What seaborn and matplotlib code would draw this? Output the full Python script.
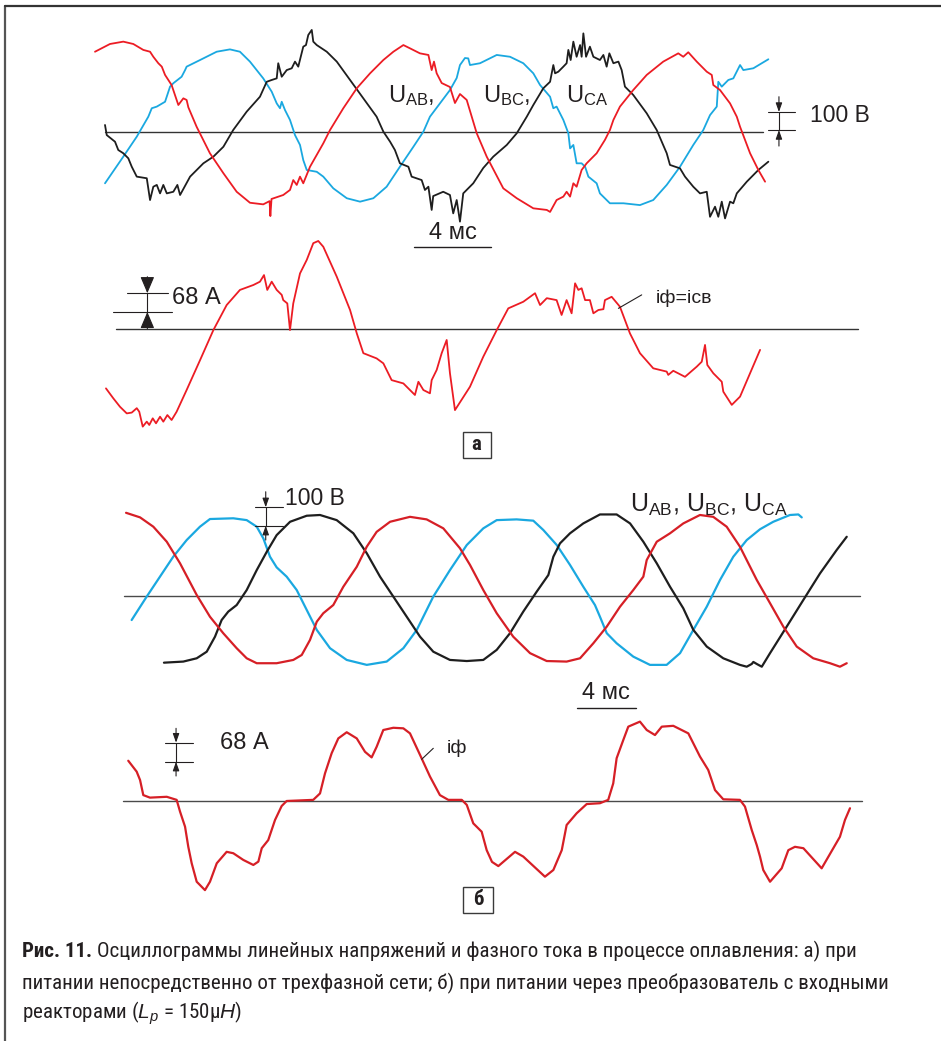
import matplotlib
matplotlib.use("Agg")
import matplotlib.pyplot as plt
from matplotlib import font_manager
from matplotlib.patches import Rectangle
from matplotlib.lines import Line2D
import pandas as pd
import seaborn as sns

# ---------------------------------------------------------------------------
# Oscillogram a): supply straight from the three-phase mains
# time in ms, line voltages in V, phase current in A
# ---------------------------------------------------------------------------
A_T_AB = [-0.52, 0.26, 0.95, 1.47, 1.99, 2.34, 2.51, 2.77, 2.95, 3.12, 3.46, 3.81, 4.07, 4.24, 4.33,
          4.76, 5.45, 6.15, 6.84, 7.53, 8.22, 8.55, 8.59, 8.65, 9.26, 9.61, 9.78, 9.96, 10.13, 10.30,
          10.65, 11.34, 11.69, 12.38, 13.08, 13.77, 14.46, 14.98, 15.50, 15.84, 16.36, 16.80, 16.97,
          17.09, 17.23, 17.49, 17.92, 18.18, 18.44, 18.79, 19.31, 19.83, 20.69, 21.39, 22.25, 22.95,
          23.12, 23.46, 23.81, 23.98, 24.16, 24.33, 24.50, 24.76, 25.02, 25.54, 25.97, 26.23, 26.41,
          26.75, 27.44, 28.14, 29.00, 29.78, 30.04, 30.30, 30.74, 31.26, 31.52, 31.60, 31.95, 32.47,
          32.82, 32.99, 33.51, 33.94, 34.29]
A_U_AB = [446, 489, 502, 489, 456, 446, 418, 382, 363, 317, 261, 150, 187, 178, 137,
          29, -118, -229, -332, -393, -402, -384, -467, -372, -350, -322, -267, -294, -248, -285,
          -193, -63, 11, 132, 243, 326, 400, 446, 483, 465, 437, 428, 344,
          391, 326, 272, 250, 161, 211, 178, -7, -137, -313, -368, -424, -433,
          -444, -378, -359, -332, -359, -285, -304, -211, -174, -118, -44, 11, 67,
          141, 233, 317, 391, 437, 418, 443, 391, 335, 317, 261, 233, 159,
          85, 29, -118, -211, -276]

A_T_BC = [0, 0.95, 1.65, 2.25, 2.43, 2.69, 3.12, 3.38, 3.55, 3.98, 4.16, 4.24, 4.94, 5.80, 6.49,
          7.01, 7.53, 8.22, 8.66, 8.92, 9.09, 9.18, 9.35, 9.61, 9.87, 10.13, 10.30, 10.48, 11.00,
          11.34, 11.86, 12.56, 13.25, 13.94, 14.63, 15.32, 16.02, 16.54, 16.88, 17.40, 17.92, 18.27,
          18.44, 18.70, 18.87, 18.96, 19.48, 20.35, 21.04, 21.73, 22.25, 22.60, 23.12, 23.29, 23.46,
          23.81, 24.07, 24.16, 24.33, 24.50, 24.76, 24.94, 25.11, 25.54, 25.71, 26.23, 26.93, 27.79,
          28.48, 29.18, 29.87, 30.56, 31.08, 31.43, 31.78, 31.86, 32.04, 32.38, 32.64, 32.99, 33.16,
          33.68, 34.46]
A_U_BC = [-285, -137, -26, 85, 132, 141, 168, 252, 271, 307, 344, 363, 400, 446, 459,
          446, 391, 298, 224, 159, 132, 168, 122, 67, -17, -72, -156, -211, -221,
          -248, -313, -368, -387, -368, -304, -193, -82, 2, 85, 159, 233, 300,
          372, 411, 409, 372, 382, 428, 418, 382, 326, 261, 196, 132, 141,
          67, -7, -91, -72, -174, -174, -193, -248, -285, -341, -396, -396, -406,
          -378, -294, -193, -72, 11, 94, 141, 279, 252, 289, 298, 372, 344,
          354, 404]

A_T_CA = [0, 0.09, 0.52, 0.69, 0.95, 1.21, 1.39, 1.65, 2.17, 2.34,
          2.51, 2.69, 2.86, 3.03, 3.21, 3.55, 3.76, 3.90, 4.42, 5.11,
          5.63, 6.15, 6.66, 7.36, 8.05, 8.40, 8.66, 8.92, 9.00, 9.18,
          9.44, 9.70, 9.87, 10.04, 10.30, 10.44, 10.56, 10.74, 10.82, 11.00,
          11.52, 12.04, 12.73, 13.42, 14.11, 14.46, 14.81, 15.06, 15.32, 15.76,
          15.93, 16.45, 16.62, 16.80, 16.97, 17.05, 17.57, 17.92, 18.09, 18.27,
          18.44, 18.61, 19.13, 19.65, 20.17, 20.87, 21.39, 21.91, 22.25, 22.77,
          23.12, 23.29, 23.38, 23.55, 23.81, 23.98, 24.07, 24.19, 24.33, 24.50,
          24.68, 24.76, 24.85, 24.99, 25.19, 25.37, 25.71, 25.89, 26.06, 26.20,
          26.41, 26.67, 26.84, 27.01, 27.44, 28.14, 28.66, 29.18, 29.35, 29.87,
          30.13, 30.56, 30.91, 31.26, 31.43, 31.69, 31.86, 32.04, 32.21, 32.47,
          32.64, 32.82, 33.34, 33.94, 34.46]
A_U_CA = [39, -17, -54, -100, -118, -146, -193, -248, -257, -378,
          -304, -294, -341, -294, -341, -332, -294, -350, -248, -174,
          -137, -82, 11, 113, 196, 279, 289, 298, 382, 307,
          344, 354, 391, 363, 474, 483, 539, 567, 502, 483,
          446, 391, 289, 187, 85, 2, -54, -100, -174, -193,
          -248, -267, -322, -304, -433, -356, -332, -350, -452, -378,
          -498, -341, -285, -200, -137, -72, -7, 85, 150, 243,
          279, 372, 326, 335, 363, 382, 456, 400, 502, 418,
          483, 418, 548, 418, 474, 418, 400, 428, 363, 437,
          382, 391, 344, 252, 206, 104, 11, -118, -183, -202,
          -248, -304, -341, -332, -471, -415, -471, -387, -480, -387,
          -396, -341, -276, -211, -165]

A_T_I = [0.05, 0.43, 0.78, 1.13, 1.39, 1.65, 1.78, 1.96, 2.17, 2.30,
         2.48, 2.65, 2.86, 3.03, 3.24, 3.46, 3.72, 4.24, 4.94, 5.63,
         6.32, 7.01, 7.71, 8.05, 8.26, 8.43, 8.66, 8.92, 9.18, 9.26,
         9.47, 9.61, 9.78, 10.13, 10.48, 10.82, 11.08, 11.34, 12.04, 12.73,
         13.08, 13.42, 14.11, 14.46, 14.89, 15.50, 16.10, 16.28, 16.54, 16.88,
         16.97, 17.23, 17.49, 17.75, 17.92, 18.18, 18.96, 19.65, 20.35, 20.95,
         21.73, 22.34, 22.60, 22.95, 23.46, 23.72, 23.98, 24.24, 24.42, 24.59,
         24.76, 24.94, 25.19, 25.37, 25.63, 25.89, 25.97, 26.32, 26.75, 27.27,
         27.79, 28.48, 29.18, 29.26, 29.52, 30.13, 30.74, 31.00, 31.17, 31.29,
         31.60, 32.04, 32.12, 32.56, 32.99, 34.03]
A_I = [-217, -253, -284, -308, -305, -289, -302, -356, -338, -350,
       -326, -344, -320, -338, -314, -332, -302, -223, -114, -5,
       86, 141, 159, 171, 195, 141, 171, 141, 123, 104,
       92, -5, 92, 201, 250, 311, 319, 298, 189, 68,
       -17, -89, -108, -126, -187, -199, -241, -193, -223, -235,
       -187, -150, -89, -41, -162, -296, -211, -102, -5, 74,
       98, 129, 86, 111, 104, 50, 104, 56, 165, 141,
       147, 104, 104, 56, 68, 71, 104, 116, 80, -17,
       -89, -144, -156, -168, -153, -175, -138, -120, -59, -132,
       -162, -193, -229, -277, -247, -77]

# ---------------------------------------------------------------------------
# Oscillogram б): supply through the converter with input reactors
# ---------------------------------------------------------------------------
B_T_AB = [0.41, 1.36, 2.26, 3.17, 4.07, 5.20, 6.10, 7.00, 7.91, 8.59,
          9.27, 10.62, 11.75, 12.32, 12.88, 13.34, 13.78, 14.46, 15.14, 16.05,
          16.73, 17.40, 18.31, 19.66, 20.79, 21.92, 23.05, 23.73, 24.63, 25.54,
          26.66, 27.80, 28.93, 30.28, 31.19, 32.09, 33.00, 33.90, 34.80, 35.48,
          35.71, 36.39, 37.29, 38.19, 39.32, 40.22, 41.13, 42.03, 43.17, 44.07,
          44.97, 45.88, 47.00, 48.14, 48.81, 49.27]
B_U_AB = [453, 428, 377, 295, 177, 4, -115, -205, -287, -342,
          -369, -369, -351, -324, -242, -142, -96, -51, 49, 158,
          268, 349, 404, 431, 417, 368, 259, 168, 31, -96,
          -224, -314, -357, -360, -342, -260, -169, -60, 31, 104,
          195, 295, 341, 395, 441, 431, 377, 268, 86, -41,
          -169, -278, -342, -369, -388, -369]

B_T_BC = [0.79, 1.81, 2.71, 3.61, 4.52, 5.42, 6.10, 7.68, 8.59, 9.27,
          9.72, 10.17, 10.62, 11.30, 11.98, 12.66, 13.34, 14.24, 15.37, 16.73,
          18.08, 19.21, 20.12, 21.24, 22.37, 23.51, 24.63, 25.54, 26.89, 28.02,
          28.70, 29.61, 30.51, 31.41, 32.20, 32.54, 33.00, 33.67, 34.80, 35.93,
          37.06, 37.97, 38.87, 39.78, 40.68, 41.58, 42.49, 43.39, 44.29, 45.42,
          45.99, 46.22]
B_U_BC = [-133, -5, 104, 213, 304, 377, 419, 423, 413, 377,
          313, 213, 155, 104, 31, -78, -187, -287, -351, -378,
          -360, -287, -187, -5, 140, 277, 368, 413, 417, 410,
          359, 277, 168, 49, -51, -115, -205, -260, -333, -378,
          -378, -314, -187, -60, 86, 213, 304, 363, 404, 441,
          444, 428]

B_T_CA = [2.98, 4.29, 5.20, 5.88, 6.44, 6.89, 7.34, 7.91, 8.59, 9.27,
          9.95, 10.62, 11.53, 12.66, 13.56, 14.69, 15.82, 16.73, 17.63, 18.53,
          19.44, 20.34, 21.24, 22.37, 23.51, 24.63, 25.54, 26.44, 27.34, 28.25,
          29.04, 29.38, 29.83, 30.51, 31.41, 32.54, 33.67, 34.58, 35.48, 36.39,
          37.29, 38.19, 38.87, 39.78, 40.90, 42.03, 42.49, 42.83, 42.94, 43.17,
          43.51, 44.07, 45.20, 46.33, 47.46, 48.59, 49.27]
B_U_CA = [-366, -360, -342, -306, -224, -133, -87, -51, 31, 140,
          240, 331, 404, 437, 441, 413, 341, 232, 104, -5,
          -115, -224, -306, -351, -357, -351, -296, -205, -87, 22,
          113, 213, 286, 341, 395, 444, 444, 395, 295, 177,
          49, -69, -187, -278, -342, -378, -388, -373, -362, -373,
          -388, -314, -169, -23, 122, 250, 322]

B_T_I = [0.56, 1.13, 1.36, 1.58, 2.03, 3.17, 3.84, 4.07, 4.41, 4.63,
         4.86, 5.20, 5.76, 6.10, 6.56, 7.23, 7.68, 8.36, 9.04, 9.38,
         9.61, 10.05, 10.51, 10.96, 11.30, 13.10, 13.56, 13.90, 14.35, 14.80,
         15.37, 16.05, 16.61, 17.06, 17.40, 17.85, 18.53, 19.21, 19.66, 20.34,
         21.02, 21.69, 22.26, 23.17, 23.51, 23.95, 24.52, 24.86, 25.22, 25.65,
         26.78, 27.34, 28.81, 29.38, 29.95, 30.28, 30.96, 31.64, 32.54, 33.10,
         33.44, 33.67, 34.12, 34.46, 35.25, 35.71, 36.27, 36.73, 37.51, 38.53,
         39.32, 39.88, 40.34, 40.90, 42.03, 42.37, 42.83, 43.17, 43.39, 43.61,
         44.07, 44.86, 45.31, 45.76, 46.33, 47.57, 48.36, 48.81, 49.15, 49.49]
B_I = [143, 104, 74, 20, 11, 14, 3, -39, -93, -165,
       -224, -290, -320, -290, -224, -183, -188, -212, -230, -218,
       -170, -141, -69, -19, -1, 3, 26, 98, 170, 223,
       245, 223, 175, 155, 193, 253, 261, 259, 241, 164,
       86, 20, 3, 3, -15, -81, -111, -177, -219, -234,
       -183, -200, -272, -248, -177, -87, -45, -12, -9, 3,
       62, 152, 217, 265, 283, 253, 235, 265, 268, 241,
       158, 110, 38, 5, 3, -21, -105, -159, -200, -248,
       -290, -242, -177, -165, -170, -242, -170, -129, -69, -27]

CAPTION_BOLD = "Рис. 11."
CAPTION_1 = "Осциллограммы линейных напряжений и фазного тока в процессе оплавления: а) при"
CAPTION_2 = "питании непосредственно от трехфазной сети; б) при питании через преобразователь с входными"
CAPTION_3 = "реакторами ($L_p$ = 150μ$H$)"

# ---------------------------------------------------------------------------
sns.set_theme(style="white")
plt.rcParams["font.family"] = ["Liberation Sans", "DejaVu Sans"]
plt.rcParams["mathtext.fontset"] = "custom"
plt.rcParams["mathtext.rm"] = "Liberation Sans"
plt.rcParams["mathtext.it"] = "Liberation Sans:italic"
plt.rcParams["mathtext.bf"] = "Liberation Sans:bold"

installed = {f.name for f in font_manager.fontManager.ttflist}
NARROW = next((f for f in ["Liberation Sans Narrow", "Roboto Condensed", "DejaVu Sans Condensed"]
               if f in installed), "Liberation Sans")

INK = "#231f20"
RED_A, RED_B = "#ec1c24", "#d61f26"
BLUE = "#1aa8e0"
BLACK = "#1e1e1e"

W, H = 941, 1041
fig = plt.figure(figsize=(W / 100, H / 100), dpi=100)


def panel(left, right, top, bottom, t0, zero, px_per_ms, px_per_unit):
    """Axes over a pixel box; t=0 sits at column t0, the zero level at row zero."""
    ax = fig.add_axes([left / W, 1 - bottom / H, (right - left) / W, (bottom - top) / H])
    ax.set_xlim((left - t0) / px_per_ms, (right - t0) / px_per_ms)
    ax.set_ylim((zero - bottom) / px_per_unit, (zero - top) / px_per_unit)
    ax.axis("off")
    ax.patch.set_alpha(0)
    return ax


def trace(ax, t, y, color, lw):
    df = pd.DataFrame({"t": t, "y": y})
    sns.lineplot(data=df, x="t", y="y", ax=ax, color=color, lw=lw,
                 estimator=None, sort=False, errorbar=None,
                 solid_joinstyle="round", solid_capstyle="round")


def zero_line(ax, span, color, lw=1.0):
    ax.plot(span, [0, 0], color=color, lw=lw, zorder=1)


def scale_marker(ax, t, lo, hi, top, bottom, ticks_lo, ticks_hi, head, lw=0.8):
    ax.plot(ticks_hi, [hi, hi], color=INK, lw=lw)
    ax.plot(ticks_lo, [lo, lo], color=INK, lw=lw)
    ax.plot([t, t], [lo, hi], color=INK, lw=lw)
    arrow = dict(arrowstyle=head, color=INK, lw=lw, shrinkA=0, shrinkB=0)
    ax.annotate("", xy=(t, hi), xytext=(t, top), arrowprops=arrow)
    ax.annotate("", xy=(t, lo), xytext=(t, bottom), arrowprops=arrow)


def time_bar(ax, t_start, level, label, text_level):
    ax.plot([t_start, t_start + 4], [level, level], color=INK, lw=1.0)
    ax.text(t_start + 2, text_level, label, ha="center", va="bottom", fontsize=17, color=INK)


def tag_box(ax, t0, t1, y0, y1, label):
    ax.add_patch(Rectangle((t0, y0), t1 - t0, y1 - y0, fc="white", ec="#3a3a3a", lw=1.0))
    ax.text((t0 + t1) / 2, (y0 + y1) / 2, label, ha="center", va="center",
            fontsize=15, fontweight="bold", family=NARROW, color=INK)


THIN_HEAD = "-|>,head_length=0.45,head_width=0.16"
BIG_HEAD = "-|>,head_length=0.85,head_width=0.36"

# ----- a) voltages ---------------------------------------------------------
ax = panel(80, 890, 15, 250, 105, 132, 19.25, 0.18)
zero_line(ax, [0, 34.2], "#333333")
trace(ax, A_T_BC, A_U_BC, BLUE, 1.3)
trace(ax, A_T_CA, A_U_CA, BLACK, 1.3)
trace(ax, A_T_AB, A_U_AB, RED_A, 1.3)
for t_lab, sub in [(14.7, "AB"), (19.64, "BC"), (23.95, "CA")]:
    ax.text(t_lab, 167, "U$_{\\mathrm{%s}}$%s" % (sub, "," if sub != "CA" else ""),
            fontsize=17, color=INK, va="baseline", ha="left")
scale_marker(ax, 35.01, 11, 111, 196, -78, [34.44, 35.84], [34.44, 35.84], THIN_HEAD)
ax.text(36.6, 94, "100 В", fontsize=16.5, color=INK, va="center", ha="left")
time_bar(ax, 16.05, -637, "4 мс", -622)

# ----- a) current ----------------------------------------------------------
ax = panel(80, 890, 225, 475, 105, 328.7, 19.25, 18.7 / 68)
zero_line(ax, [0.57, 39.12], "#333333")
trace(ax, A_T_I, A_I, RED_A, 1.3)
scale_marker(ax, 2.2, 61, 129, 189, 0, [0.42, 3.48], [1.13, 3.29], BIG_HEAD)
ax.text(3.46, 112, "68 А", fontsize=17, color=INK, va="center", ha="left")
ax.plot([26.67, 27.88], [74, 123], color=INK, lw=0.8)
ax.text(28.6, 112, "iф=iсв", fontsize=14, color=INK, va="center", ha="left")
tag_box(ax, 18.58, 20.03, -470, -374, "а")

# ----- б) voltages ---------------------------------------------------------
ax = panel(80, 890, 480, 722, 120, 595.7, 14.75, 0.183)
zero_line(ax, [0.27, 50.17], "#4a4a4a")
trace(ax, B_T_BC, B_U_BC, BLUE, 1.6)
trace(ax, B_T_CA, B_U_CA, BLACK, 1.6)
trace(ax, B_T_AB, B_U_AB, RED_B, 1.6)
ax.text(34.58, 459, "U$_{\\mathrm{AB}}$, U$_{\\mathrm{BC}}$, U$_{\\mathrm{CA}}$",
        fontsize=18, color=INK, va="baseline", ha="left")
scale_marker(ax, 9.88, 382.5, 483, 568, 304, [9.15, 11.03], [9.15, 11.03], THIN_HEAD)
ax.text(11.19, 532, "100 В", fontsize=16.5, color=INK, va="center", ha="left")
time_bar(ax, 30.96, -612, "4 мс", -590)

# ----- б) current ----------------------------------------------------------
ax = panel(80, 890, 715, 935, 120, 800.7, 14.75, 19 / 68)
zero_line(ax, [0.18, 50.3], "#4a4a4a")
trace(ax, B_T_I, B_I, RED_B, 1.6)
scale_marker(ax, 3.8, 139.6, 207.6, 259, 88.4, [3.05, 4.93], [3.05, 4.93], THIN_HEAD)
ax.text(6.78, 205, "68 А", fontsize=17, color=INK, va="center", ha="left")
ax.plot([20.45, 21.24], [148, 187.5], color=INK, lw=0.8)
ax.text(22.15, 187.5, "iф", fontsize=14, color=INK, va="center", ha="left")
tag_box(ax, 23.27, 25.27, -402, -308, "б")

# ----- frame and caption ---------------------------------------------------
fig.add_artist(Line2D([5 / W, 5 / W], [0, 1 - 6 / H], transform=fig.transFigure,
                      color="#555555", lw=1.6))
fig.add_artist(Line2D([5 / W, 1], [1 - 6 / H, 1 - 6 / H], transform=fig.transFigure,
                      color="#333333", lw=1.6))

renderer = fig.canvas.get_renderer()
probe = fig.text(22 / W, 0.5, CAPTION_2, family=NARROW, fontsize=14)
cap_size = 14 * (893 - 22) / probe.get_window_extent(renderer).width
probe.remove()

bold = fig.text(22 / W, 1 - 957 / H, CAPTION_BOLD, family=NARROW, fontweight="bold",
                fontsize=cap_size, color=INK, va="baseline")
bx = bold.get_window_extent(renderer).x1
fig.text((bx + 0.3 * cap_size) / W, 1 - 957 / H, CAPTION_1, family=NARROW,
         fontsize=cap_size, color=INK, va="baseline")
fig.text(22 / W, 1 - 989 / H, CAPTION_2, family=NARROW, fontsize=cap_size, color=INK,
         va="baseline")
fig.text(22 / W, 1 - 1019 / H, CAPTION_3, family=NARROW, fontsize=cap_size, color=INK,
         va="baseline")

fig.savefig("out.png", dpi=100)
